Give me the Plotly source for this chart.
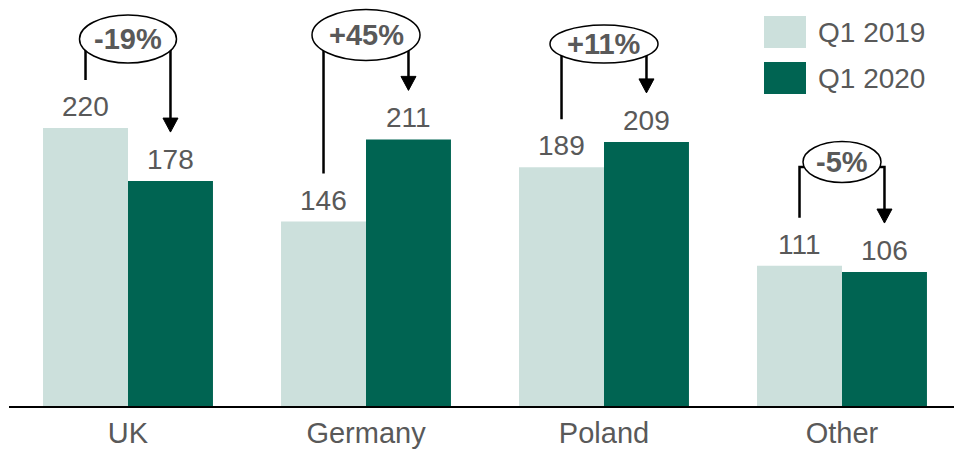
import plotly.graph_objects as go

# ---- data ----
categories = ["UK", "Germany", "Poland", "Other"]
q1_2019 = [220, 146, 189, 111]
q1_2020 = [178, 211, 209, 106]
changes = ["-19%", "+45%", "+11%", "-5%"]
series_names = ["Q1 2019", "Q1 2020"]

# ---- style / layout config ----
LIGHT = "#CCE0DC"
DARK = "#006452"
GREY = "#595959"
FONT = "Arial, Liberation Sans, sans-serif"
W, H = 954, 449
ML, MR, MT, MB = 9, 0, 0, 43
YMAX = 321.3
BARGAP = 0.286
XMAX = 3.4706

plot_h = H - MT - MB
plot_w = W - ML - MR
px_per_unit = plot_h / YMAX
def py_to_data(py):
    return (H - MB - py) / px_per_unit

# annotation geometry (pixel based)
ell_center_px = [39, 35, 44, 162]
ell_w_px = [97, 108, 108, 78]
ell_h_px = [48, 51, 38, 41]
bracket_top_px = [39, 35, 44, 167]
gap_px_start = 48   # gap between bar top and bracket start
gap_px_tip = 49     # gap between bar top and arrow tip
head_w_px, head_h_px = 15, 14

x_idx = list(range(len(categories)))
off = (1 - BARGAP) / 4

fig = go.Figure()
for name, vals, col in [(series_names[0], q1_2019, LIGHT), (series_names[1], q1_2020, DARK)]:
    fig.add_trace(go.Bar(
        x=x_idx, y=vals, name=name, marker=dict(color=col, line=dict(width=0)),
        showlegend=False, hoverinfo="x+y",
    ))

shapes = []
annotations = []
head_w = head_w_px / (plot_w / (XMAX + 0.5))
head_h = head_h_px / px_per_unit
for i in x_idx:
    xl = i - off
    xr = i + off
    # value labels
    for xv, v in [(xl, q1_2019[i]), (xr, q1_2020[i])]:
        annotations.append(dict(x=xv, y=v, xref="x", yref="y", text=str(v),
                                showarrow=False, xanchor="center", yanchor="bottom", yshift=4,
                                font=dict(size=28, color=GREY, family=FONT)))
    y_start = q1_2019[i] + gap_px_start / px_per_unit
    y_tip = q1_2020[i] + gap_px_tip / px_per_unit
    y_top = py_to_data(bracket_top_px[i])
    shapes.append(dict(
        type="path", xref="x", yref="y",
        path=f"M {xl},{y_start} L {xl},{y_top} L {xr},{y_top} L {xr},{y_tip + head_h * 0.8}",
        line=dict(color="black", width=2.5), layer="above"))
    shapes.append(dict(
        type="path", xref="x", yref="y",
        path=f"M {xr - head_w/2},{y_tip + head_h} L {xr + head_w/2},{y_tip + head_h} L {xr},{y_tip} Z",
        fillcolor="black", line=dict(color="black", width=1), layer="above"))
    yc = py_to_data(ell_center_px[i])
    shapes.append(dict(
        type="circle", xref="x", yref="y",
        xsizemode="pixel", ysizemode="pixel", xanchor=i, yanchor=yc,
        x0=-ell_w_px[i] / 2, x1=ell_w_px[i] / 2,
        y0=-ell_h_px[i] / 2, y1=ell_h_px[i] / 2,
        fillcolor="white", line=dict(color="black", width=1.5), layer="above"))
    annotations.append(dict(
        x=i, y=yc, xref="x", yref="y", text=f"<b>{changes[i]}</b>",
        showarrow=False, font=dict(size=29, color=GREY, family=FONT),
        xanchor="center", yanchor="middle"))

# manual legend (big squares)
def px_x(px):
    return (px - ML) / plot_w
def px_y(py):
    return (H - MB - py) / plot_h
leg_boxes = [(16, 48), (62, 94)]
for (t, b), name, col in zip(leg_boxes, series_names, [LIGHT, DARK]):
    shapes.append(dict(type="rect", xref="paper", yref="paper",
                       x0=px_x(764), x1=px_x(806), y0=px_y(b), y1=px_y(t),
                       fillcolor=col, line=dict(width=0)))
    annotations.append(dict(x=px_x(816), y=px_y((t + b) / 2), xref="paper", yref="paper",
                            text=name, showarrow=False, xanchor="left", yanchor="middle",
                            font=dict(size=28, color=GREY, family=FONT)))

fig.update_layout(
    width=W, height=H,
    margin=dict(l=ML, r=MR, t=MT, b=MB, pad=0),
    paper_bgcolor="white", plot_bgcolor="white",
    barmode="group", bargap=BARGAP, bargroupgap=0,
    shapes=shapes, annotations=annotations,
    showlegend=False,
    font=dict(family=FONT, color=GREY),
    xaxis=dict(range=[-0.5, XMAX], tickvals=x_idx, ticktext=categories,
               showline=True, linecolor="black", linewidth=2, ticks="",
               showgrid=False, zeroline=False, fixedrange=True,
               tickfont=dict(size=29, color=GREY, family=FONT)),
    yaxis=dict(range=[0, YMAX], visible=False, showgrid=False, zeroline=False, fixedrange=True),
)

fig.write_html("out.html", config={"displayModeBar": False})
